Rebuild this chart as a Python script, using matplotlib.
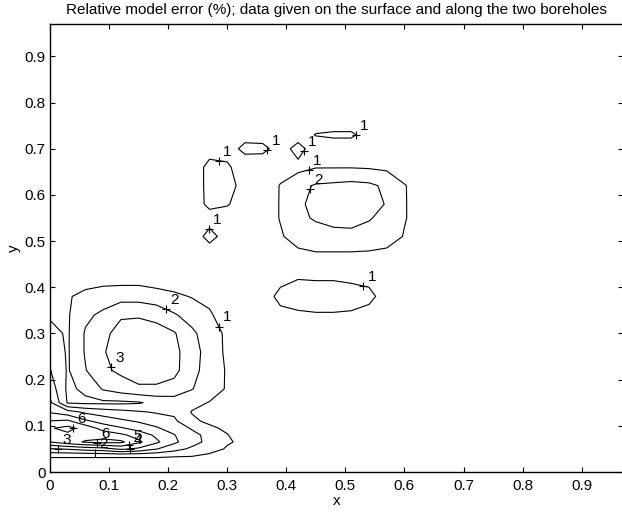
import numpy as np
import matplotlib
matplotlib.use('Agg')  # render off-screen
import matplotlib.pyplot as plt

plt.rcParams['font.family'] = ['Liberation Sans', 'DejaVu Sans']

# grid nodes (non-uniform, denser near the bottom where the error is steep)
x = [0, 0.03, 0.06, 0.09, 0.12, 0.15, 0.18, 0.21, 0.24, 0.27, 0.30, 0.33,
     0.36, 0.39, 0.42, 0.45, 0.48, 0.51, 0.54, 0.57, 0.60, 0.65, 0.97]
y = [0, 0.02, 0.035, 0.05, 0.065, 0.08, 0.095, 0.11, 0.13, 0.15, 0.18, 0.22,
     0.26, 0.30, 0.34, 0.38, 0.42, 0.46, 0.51, 0.55, 0.58, 0.62, 0.66, 0.70,
     0.73, 0.76, 0.80, 0.97]

# relative model error (%), one row per y node
err = [
    [0]*23,
    [.4, .4, .4, .4, .4, .4, .4, .4, .4, .3, .2, .1] + [0]*11,
    [1.2, 1.2, 1.2, 1.2, 1.2, 1.2, 1.2, 1.1, 1.05, .8, .5, .2] + [0]*11,
    [2.9, 3.1, 3.4, 3.6, 4.2, 3.8, 3.05, 2.4, 1.8, 1.4, .9, .3] + [0]*11,
    [5.0, 5.6, 6.1, 6.3, 6.2, 5.2, 4.2, 3.2, 2.4, 1.7, 1.1, .8] + [0]*11,
    [5.9, 5.8, 5.6, 5.6, 5.2, 4.6, 3.8, 3.05, 2.3, 1.7, 1.05, .4] + [0]*11,
    [5.9, 6.3, 5.6, 4.6, 4.1, 3.6, 3.1, 2.6, 1.9, 1.2, .8, .3] + [0]*11,
    [5.05, 5.2, 4.2, 3.6, 3.2, 2.9, 2.6, 2.2, 1.2, .8, .4, .1] + [0]*11,
    [3.9, 3.4, 2.8, 2.5, 2.3, 2.1, 1.9, 1.8, .95, .7, .4, .1] + [0]*11,
    [3.2, .9, .8, .8, .8, .9, 1.3, 1.5, 1.3, .95, .6, .2] + [0]*11,
    [2.6, .8, 1.2, 2.1, 2.5, 2.8, 2.8, 2.6, 2.05, 1.5, .9, .3] + [0]*11,
    [2.05, .9, 1.95, 2.8, 3.2, 3.6, 3.6, 3.3, 2.3, 1.6, .9, .3] + [0]*11,
    [1.6, .9, 2.1, 2.9, 3.6, 3.8, 3.7, 3.3, 2.4, 1.6, .8, .3] + [0]*11,
    [1.25, .9, 2.1, 2.8, 3.3, 3.5, 3.4, 3.1, 2.2, 1.5, .8, .3] + [0]*11,
    [.9, .9, 1.8, 2.2, 2.9, 2.9, 2.7, 2.1, 1.6, 1.1, .6, .3,
     0, .6, .8, .9, .9, .85, .6, .2, 0, 0, 0],
    [.7, .9, 1.3, 1.5, 1.6, 1.6, 1.4, 1.2, .95, .8, .5, .2,
     .3, 1.4, 1.6, 1.6, 1.6, 1.5, 1.3, .5, .1, 0, 0],
    [.3, .4, .5, .6, .6, .6, .5, .4, .3, .2, .1, 0,
     .1, .6, .95, .9, .9, .8, .7, .3, 0, 0, 0],
    [0]*12 + [.2, .4, .6, .7, .7, .7, .7, .6, .4, .1, 0],
    [0, 0, 0, 0, 0, 0, 0, 0, .3, 1.4, .5, .2,
     .4, .9, 1.4, 1.6, 1.6, 1.6, 1.5, 1.4, .95, .3, 0],
    [0, 0, 0, 0, 0, 0, 0, 0, .2, .5, .4, .2,
     .5, 1.05, 1.8, 2.1, 2.4, 2.5, 2.1, 1.6, 1.05, .4, 0],
    [0, 0, 0, 0, 0, 0, 0, 0, .3, 1.3, 1.1, .4,
     .5, 1.05, 1.8, 2.3, 2.6, 2.7, 2.6, 1.9, 1.05, .4, 0],
    [0, 0, 0, 0, 0, 0, 0, 0, .4, 1.3, 1.4, .6,
     .4, 1.05, 1.7, 2.1, 2.2, 2.3, 2.2, 1.8, 1.05, .3, 0],
    [0, 0, 0, 0, 0, 0, 0, 0, .4, 1.3, 1.2, .3,
     .2, .6, .7, .95, .95, .95, .9, .8, .5, .1, 0],
    [0, 0, 0, 0, 0, 0, 0, 0, .3, .6, .5, 1.3,
     1.3, .5, 1.4, .4, .5, .5, .5, .3, .2, 0, 0],
    [0, 0, 0, 0, 0, 0, 0, 0, 0, .2, .3, .6,
     .5, .3, .5, 1.05, 1.15, 1.15, .6, .2, 0, 0, 0],
    [0]*14 + [.2, .5, .5, .5, .3, 0, 0, 0, 0],
    [0]*23,
    [0]*23,
]

levels = [1, 2, 3, 4, 5, 6]

# where each contour gets its "+" and number
label_spots = [
    (1, 0.286, 0.676), (1, 0.269, 0.527), (1, 0.374, 0.691), (1, 0.432, 0.694),
    (1, 0.520, 0.728), (1, 0.440, 0.648), (1, 0.530, 0.401), (1, 0.283, 0.314),
    (2, 0.449, 0.611), (2, 0.196, 0.353), (2, 0.076, 0.041),
    (3, 0.107, 0.228), (3, 0.0135, 0.052),
    (4, 0.135, 0.052), (5, 0.135, 0.052),
    (6, 0.039, 0.095), (6, 0.080, 0.063),
]

xtick_vals = [0, 0.1, 0.2, 0.3, 0.4, 0.5, 0.6, 0.7, 0.8, 0.9]
xtick_labels = ['0', '0.1', '0.2', '0.3', '0.4', '0.5', '0.6', '0.7', '0.8', '0.9']


def nearest_on_contour(path, px, py):
    best = None
    for poly in path.to_polygons(closed_only=False):
        if len(poly) < 2:
            continue
        p0 = poly[:-1]
        d = poly[1:] - p0
        dd = (d ** 2).sum(axis=1)
        dd[dd == 0] = 1e-12
        t = np.clip(((px - p0[:, 0]) * d[:, 0] + (py - p0[:, 1]) * d[:, 1]) / dd, 0, 1)
        q = p0 + t[:, None] * d
        dist = (q[:, 0] - px) ** 2 + (q[:, 1] - py) ** 2
        i = dist.argmin()
        if best is None or dist[i] < best[0]:
            best = (dist[i], q[i])
    return best[1]


fig = plt.figure(figsize=(6.22, 5.14), dpi=100)
ax = fig.add_axes([0.0804, 0.0817, 0.9212, 0.8716])

cs = ax.contour(x, y, np.array(err), levels=levels, colors='k', linewidths=0.8)

paths = cs.get_paths()
for lev, lx, ly in label_spots:
    qx, qy = nearest_on_contour(paths[levels.index(lev)], lx, ly)
    ax.plot(qx, qy, '+', color='k', ms=6, mew=0.8)
    ax.annotate(str(lev), (qx, qy), xytext=(3, 1.5), textcoords='offset points',
                fontsize=11, ha='left', va='bottom')

ax.set_xlim(0, 0.97)
ax.set_ylim(0, 0.97)
ax.set_xticks(xtick_vals)
ax.set_xticklabels(xtick_labels)
ax.set_yticks(xtick_vals)
ax.set_yticklabels(xtick_labels)
ax.tick_params(direction='in', top=True, right=True, length=3.5, width=0.8,
               labelsize=11, pad=5)
ax.tick_params(axis='y', pad=3)
for s in ax.spines.values():
    s.set_linewidth(1.0)
ax.spines['right'].set_visible(False)  # right edge falls just outside the canvas

ax.set_xlabel('x', fontsize=11, labelpad=1)
ax.set_ylabel('y', fontsize=11, labelpad=3)
ax.set_title('Relative model error (%); data given on the surface and along the two boreholes',
             fontsize=11, pad=7)

fig.savefig('out.png', dpi=100)
